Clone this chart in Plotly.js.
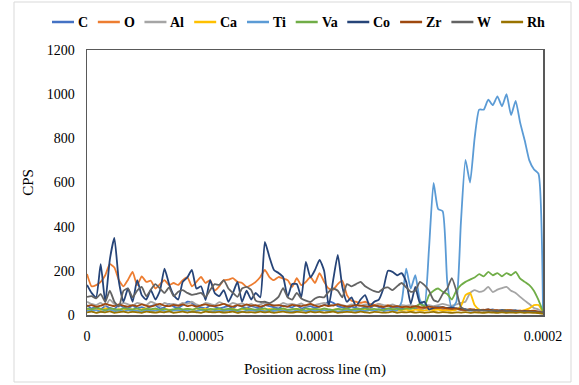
<!DOCTYPE html>
<html>
<head>
<meta charset="utf-8">
<script src="https://cdn.plot.ly/plotly-3.0.1.min.js"></script>
<style>html,body{margin:0;padding:0;background:#fff;}#chart{width:579px;height:385px;}</style>
</head>
<body>
<div id="chart"></div>
<script>
// Position across line, in micrometres (converted to metres below)
const positionUm = [0,2,4,6,8,10,12,14,16,18,20,22,24,26,28,30,32,34,36,38,40,42,44,46,48,50,52,54,56,58,60,62,64,66,68,70,72,74,76,78,80,82,84,86,88,90,92,94,96,98,100,102,104,106,108,110,112,114,116,118,120,122,124,126,128,130,132,134,136,138,140,142,144,146,148,150,152,154,156,158,160,162,164,166,168,170,172,174,176,178,180,182,184,186,188,190,192,194,196,198,200];

const seriesNames = ["C","O","Al","Ca","Ti","Va","Co","Zr","W","Rh"];

const C_cps = [45,30,38,25,40,32,28,45,35,30, 42,30,36,28,40,45,30,35,50,38, 32,45,60,55,40,35,30,42,38,30, 35,40,30,45,38,32,40,35,30,45, 40,35,30,42,38,35,45,30,36,40, 32,38,45,60,55,40,35,30,38,32, 28,35,30,42,36,30,28,35,32,30, 28,32,30,25,30,28,26,30,35,28, 25,28,22,25,20,22,24,20,22,25, 20,22,18,20,22,18,20,18,16,15,10];
const O_cps = [186,130,135,150,180,230,215,158,130,160, 195,135,175,150,155,120,140,158,136,145, 136,158,172,130,150,172,145,158,110,130, 158,160,167,150,145,127,136,150,172,204, 172,158,172,165,158,127,167,135,150,172, 145,190,150,120,115,140,155,90,65,60, 55,60,50,45,50,40,45,38,40,35, 38,32,36,30,34,30,28,32,26,28, 25,28,24,22,25,20,22,24,20,22, 20,18,22,20,18,20,16,18,15,14,10];
const Al_cps = [60,50,45,55,40,70,50,45,55,48, 42,55,50,45,60,52,40,55,48,50, 45,55,50,60,48,42,55,50,45,58, 50,45,55,48,52,45,50,40,48,55, 50,45,42,55,48,50,45,52,40,48, 45,50,55,48,42,50,45,40,48,45, 42,48,45,40,50,45,42,48,40,45, 42,45,40,48,42,45,40,45,50,45, 42,48,55,60,100,113,105,110,127,104, 115,122,127,110,100,82,65,50,32,25,15];
const Ca_cps = [25,20,28,22,30,25,20,26,22,28, 24,20,26,30,22,25,20,28,24,22, 26,22,28,24,20,25,28,22,26,24, 20,25,28,22,26,30,24,20,25,22, 28,24,20,26,22,25,28,24,20,26, 22,25,28,20,24,26,22,25,20,28, 24,22,26,20,25,22,28,24,20,22, 25,20,24,22,20,24,22,25,20,22, 20,24,40,90,100,45,25,20,22,20, 18,20,22,18,20,18,22,30,45,45,10];
const Ti_cps = [20,18,22,15,20,25,18,20,16,22, 18,20,15,22,18,20,24,18,16,20, 22,18,20,15,18,22,20,16,18,20, 18,22,20,18,15,20,22,18,20,16, 20,18,22,20,18,16,20,22,18,20, 18,20,22,18,20,16,18,22,20,18, 20,18,22,20,25,18,22,20,20,60, 210,120,180,68,40,300,598,480,470,150, 30,60,420,702,600,800,930,930,975,950, 990,945,1000,905,970,870,790,700,660,640,10];
const Va_cps = [30,25,32,28,22,30,26,24,30,28, 25,30,22,28,26,30,24,28,22,26, 30,25,28,24,30,26,22,28,25,30, 24,28,26,22,30,25,28,24,26,30, 22,28,25,30,24,26,28,22,30,25, 28,24,30,26,22,28,25,30,24,28, 26,30,24,28,25,22,30,26,28,24, 30,28,35,50,40,90,110,120,105,95, 70,110,135,150,160,170,185,175,195,180, 190,175,190,180,195,165,150,135,110,68,15];
const Co_cps = [136,100,80,230,59,250,349,150,60,120, 60,158,90,70,113,70,110,210,140,90, 70,150,170,204,120,130,68,158,100,85, 113,60,100,150,60,110,70,100,80,331, 263,204,190,172,82,140,140,80,240,170, 204,250,200,40,160,272,127,60,80,40, 70,90,40,60,70,120,200,195,180,190, 150,50,127,55,60,25,32,36,34,32, 34,30,28,25,22,24,20,22,25,20, 18,22,20,18,20,16,18,15,14,12,10];
const Zr_cps = [40,45,38,42,50,45,40,48,42,38, 45,40,48,42,38,45,50,42,40,46, 42,48,40,45,38,44,48,42,40,45, 50,42,38,45,40,48,42,45,38,44, 48,42,45,40,38,46,42,40,45,50, 42,38,45,40,44,48,42,38,40,45, 42,40,38,44,40,36,42,38,40,36, 38,35,40,36,34,38,35,32,36,30, 28,30,25,22,26,24,20,22,25,20, 22,18,20,22,18,20,16,18,20,15,10];
const W_cps = [82,85,75,95,60,110,60,38,110,120, 80,110,127,85,115,140,120,100,125,85, 105,113,100,91,95,100,82,113,140,136, 158,120,100,82,120,127,113,65,59,60, 54,65,82,122,80,70,100,75,65,59, 75,82,80,105,120,110,80,140,130,140, 150,130,118,108,104,120,125,113,130,145, 125,105,110,150,135,110,68,60,95,120, 167,110,36,25,22,20,22,20,18,20, 18,16,18,17,15,16,14,15,14,12,13];
const Rh_cps = [12,15,10,14,12,16,10,13,15,11, 14,12,10,15,13,11,14,12,16,10, 13,15,11,14,12,10,15,13,12,14, 11,13,15,10,14,12,13,11,15,12, 14,10,13,15,12,11,14,13,10,15, 12,14,11,13,15,10,12,14,13,11, 15,12,10,14,13,11,12,15,10,13, 12,14,11,13,10,12,14,11,13,12, 10,12,11,13,10,12,11,10,12,11, 10,12,10,11,10,12,10,11,10,9,5];

const xTickVals = [0, 0.00005, 0.0001, 0.00015, 0.0002];
const xTickText = ["0", "0.00005", "0.0001", "0.00015", "0.0002"];
const yTickVals = [0, 200, 400, 600, 800, 1000, 1200];

const seriesValues = [C_cps, O_cps, Al_cps, Ca_cps, Ti_cps, Va_cps, Co_cps, Zr_cps, W_cps, Rh_cps];
const seriesColors = ["#4472C4","#ED7D31","#A5A5A5","#FFC000","#5B9BD5","#70AD47","#264478","#9E480E","#636363","#997300"];

const xMetres = positionUm.map(v => v * 1e-6);
const serif = "Liberation Serif, Times New Roman, serif";

const traces = seriesNames.map((name, k) => ({
  type: "scatter",
  mode: "lines",
  name: name,
  x: xMetres,
  y: seriesValues[k],
  line: {color: seriesColors[k], width: 1.8, shape: "spline", smoothing: 0.5},
  hoverinfo: "x+y+name",
  showlegend: false
}));

// ---- geometry of the figure (pixels) ----
const W = 579, H = 385;
const M = {l: 87, r: 36, t: 50, b: 70};
const plotW = W - M.l - M.r, plotH = H - M.t - M.b;
const pxX = px => (px - M.l) / plotW;          // pixel -> paper x
const pxY = py => (H - M.b - py) / plotH;      // pixel -> paper y

// ---- legend row across the top (Excel style: short line + label) ----
const legendFontSize = 14;
const legendFont = "bold " + legendFontSize + "px 'Liberation Serif'";
const ctx = document.createElement("canvas").getContext("2d");
ctx.font = legendFont;
const sampleLen = 22, sampleGap = 2;
const legStart = 52, legEnd = 543, legY = 22;
const textW = seriesNames.map(n => ctx.measureText(n).width);
const used = textW.reduce((a, b) => a + b, 0) + seriesNames.length * (sampleLen + sampleGap);
const itemGap = (legEnd - legStart - used) / (seriesNames.length - 1);

const legendShapes = [];
const legendAnnots = [];
let cursor = legStart;
seriesNames.forEach((name, k) => {
  legendShapes.push({
    type: "line", xref: "paper", yref: "paper",
    x0: pxX(cursor), x1: pxX(cursor + sampleLen), y0: pxY(legY), y1: pxY(legY),
    line: {color: seriesColors[k], width: 2.5}
  });
  legendAnnots.push({
    xref: "paper", yref: "paper", x: pxX(cursor + sampleLen + sampleGap), y: pxY(legY),
    xanchor: "left", yanchor: "middle", showarrow: false, text: "<b>" + name + "</b>",
    font: {family: serif, size: legendFontSize, color: "#000000"}
  });
  cursor += sampleLen + sampleGap + textW[k] + itemGap;
});

const layout = {
  width: W,
  height: H,
  margin: M,
  paper_bgcolor: "#ffffff",
  plot_bgcolor: "#ffffff",
  font: {family: serif, size: 14, color: "#000000"},
  showlegend: false,
  xaxis: {
    range: [0, 0.0002],
    tickmode: "array",
    tickvals: xTickVals,
    ticktext: xTickText,
    showline: true, mirror: true, linecolor: "#595959", linewidth: 1.5,
    showgrid: false, zeroline: false, ticks: "",
    ticklabelstandoff: 8,
    tickfont: {family: serif, size: 14, color: "#000000"},
    title: {text: "Position across line (m)", font: {family: serif, size: 15, color: "#000000"}, standoff: 20}
  },
  yaxis: {
    range: [0, 1200],
    tickmode: "array",
    tickvals: yTickVals,
    showline: true, mirror: true, linecolor: "#595959", linewidth: 1.5,
    showgrid: false, zeroline: false, ticks: "",
    ticklabelstandoff: 8,
    tickfont: {family: serif, size: 14, color: "#000000"},
    title: {text: "CPS", font: {family: serif, size: 15, color: "#000000"}, standoff: 9}
  },
  shapes: [{
    type: "rect", xref: "paper", yref: "paper",
    x0: pxX(14), x1: pxX(571), y0: pxY(382), y1: pxY(2),
    line: {color: "#D9D9D9", width: 1}, fillcolor: "rgba(0,0,0,0)", layer: "below"
  }].concat(legendShapes),
  annotations: legendAnnots
};

Plotly.newPlot("chart", traces, layout, {displayModeBar: false, staticPlot: true});
</script>
</body>
</html>
